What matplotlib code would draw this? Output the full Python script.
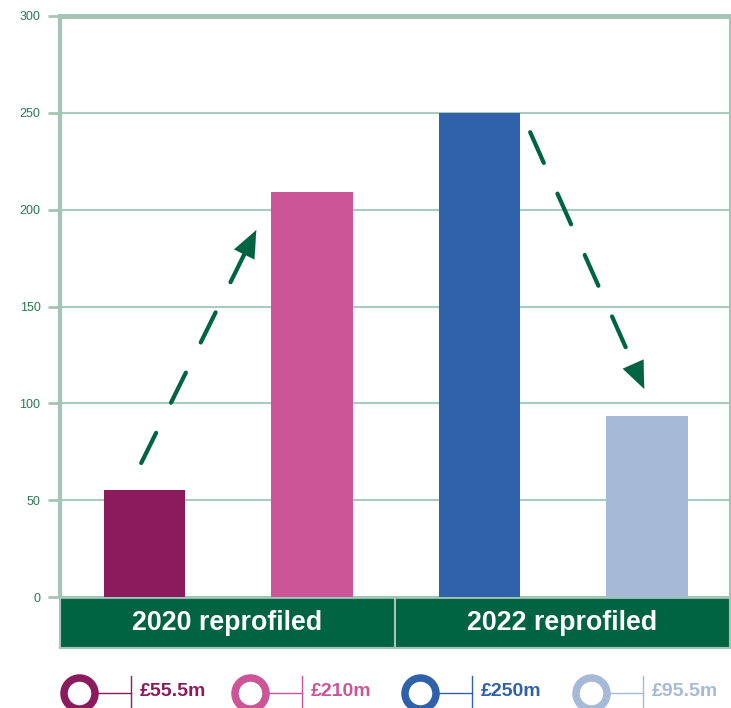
import matplotlib
matplotlib.use("Agg")
import matplotlib.pyplot as plt
import numpy as np
from matplotlib.patches import Rectangle

plt.rcParams['font.family'] = ['Liberation Sans', 'DejaVu Sans']

# ---- data ----
groups = ["2020 reprofiled", "2022 reprofiled"]
bar_values = [55.5, 209, 250, 93.5]
bar_labels = ["£55.5m", "£210m", "£250m", "£95.5m"]
bar_colors = ["#8c1b5e", "#cb5597", "#2f61ab", "#a6b9d6"]
yticks = [0, 50, 100, 150, 200, 250, 300]

W, H = 731, 708
fig = plt.figure(figsize=(W / 100, H / 100), dpi=100)

grid_c = "#a9cbbd"
spine_c = "#a3c4b6"
band_c = "#006341"
tick_txt_c = "#2a7656"

ax_l, ax_r, ax_t, ax_b = 60, 730, 16, 597
ax = fig.add_axes([ax_l / W, 1 - ax_b / H, (ax_r - ax_l) / W, (ax_b - ax_t) / H])
x = np.arange(len(bar_values))
ax.bar(x + 0.005, bar_values, width=0.485, color=bar_colors, zorder=3)
ax.set_xlim(-0.5, 3.5)
ax.set_ylim(0, 300)
ax.set_yticks(yticks)
ax.set_yticklabels([str(t) for t in yticks], fontsize=9, color=tick_txt_c)
ax.tick_params(axis='y', length=9, width=2, color=spine_c, pad=5)
ax.set_xticks([])
for yv in yticks[1:-1]:
    ax.axhline(yv, color=grid_c, lw=1.5, zorder=1)
ax.spines['left'].set_color(spine_c)
ax.spines['left'].set_linewidth(3)
ax.spines['top'].set_color(spine_c)
ax.spines['top'].set_linewidth(3.5)
ax.spines['right'].set_color(spine_c)
ax.spines['right'].set_linewidth(1.5)
ax.spines['bottom'].set_color(spine_c)
ax.spines['bottom'].set_linewidth(2)

# category band
band_h = (648 - 597) / (ax_b - ax_t)
for i, g in enumerate(groups):
    x0 = i * 0.5
    ax.add_patch(Rectangle((x0, -band_h), 0.5, band_h, transform=ax.transAxes,
                           facecolor=band_c, edgecolor=spine_c, lw=1.5, clip_on=False, zorder=2))
    ax.text(x0 + 0.25, -band_h / 2, g, transform=ax.transAxes, ha='center', va='center',
            color='white', fontsize=19.3, fontweight='bold')

# dashed arrows
arrow_c = "#006341"
arrows = [((-0.015, 69.2), (0.672, 189.5)), ((2.307, 240.0), (2.988, 107.4))]
fig.canvas.draw()
lw_px = 4.2
head_len = 26.0
for (p0, p1) in arrows:
    d0 = ax.transData.transform(p0)
    d1 = ax.transData.transform(p1)
    v = d1 - d0
    u = v / np.hypot(*v)
    base = d1 - u * head_len
    base_d = ax.transData.inverted().transform(base)
    ax.plot([p0[0], base_d[0]], [p0[1], base_d[1]], color=arrow_c, lw=lw_px * 0.72,
            dashes=(8.0, 8.0), dash_capstyle='round', solid_capstyle='round', zorder=4)
    ax.annotate("", xy=p1, xytext=base_d,
                arrowprops=dict(arrowstyle="-|>,head_length=1.0,head_width=0.42",
                                color=arrow_c, lw=0.1, mutation_scale=19.5,
                                shrinkA=0, shrinkB=0), zorder=4)

# legend row
lax = fig.add_axes([0, 0, 1, 1], zorder=-1)
lax.set_xlim(0, W)
lax.set_ylim(H, 0)
lax.axis('off')
centers = [78.5, 249.5, 420, 591]
cy = 693
for c, lab, col in zip(centers, bar_labels, bar_colors):
    lax.plot([c, c + 52], [cy, cy], color=col, lw=1, zorder=1)
    lax.plot([c + 52, c + 52], [676, 708], color=col, lw=1, zorder=1)
    lax.scatter([c], [cy], s=(31 * 0.72) ** 2, facecolor='white',
                edgecolor=col, linewidths=5.4, zorder=2)
    lax.text(c + 61, 691, lab, color=col, fontsize=14, fontweight='bold', va='center', ha='left')

fig.savefig("out.png", dpi=100)
